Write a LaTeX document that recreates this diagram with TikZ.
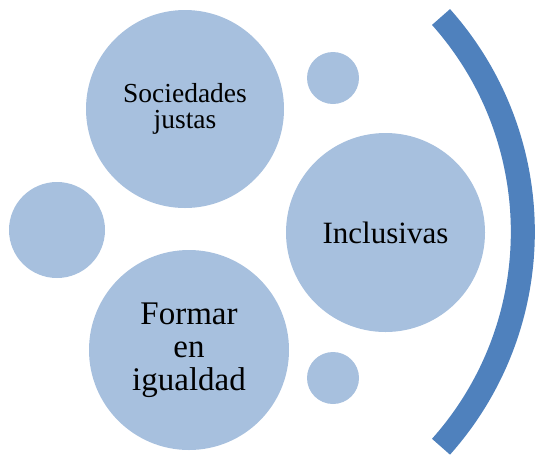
\documentclass[tikz,border=0pt]{standalone}
\usepackage{fontspec}
\setmainfont{Liberation Serif}
\definecolor{bubblefill}{HTML}{A7C0DE}
\definecolor{arcblue}{HTML}{4F81BD}
\begin{document}
\begin{tikzpicture}[x=1pt,y=-1pt]
    \tikzstyle{bubble}=[circle,fill=bubblefill,inner sep=0pt,align=center]
    \useasboundingbox (0,0) rectangle (535,459);
    \node (soc)[bubble,minimum size=198pt,font=\fontsize{27.5}{26}\selectfont] at (185,109) {Sociedades\\justas};
    \node (inc)[bubble,minimum size=199pt,font=\fontsize{31}{33}\selectfont] at (385.5,232.5) {Inclusivas};
    \node (for)[bubble,minimum size=200pt,font=\fontsize{33}{33}\selectfont] at (189,350) {Formar\\en\\igualdad};
    \node (left)[bubble,minimum size=96pt] at (57,230) {};
    \node (top)[bubble,minimum size=52pt] at (333,78) {};
    \node (bot)[bubble,minimum size=52pt] at (333,378) {};
    \coordinate (arctop) at (441,17);
    \draw[arcblue,line width=24pt] (arctop) arc[start angle=-41.7,end angle=41.7,radius=323];
\end{tikzpicture}
\end{document}
